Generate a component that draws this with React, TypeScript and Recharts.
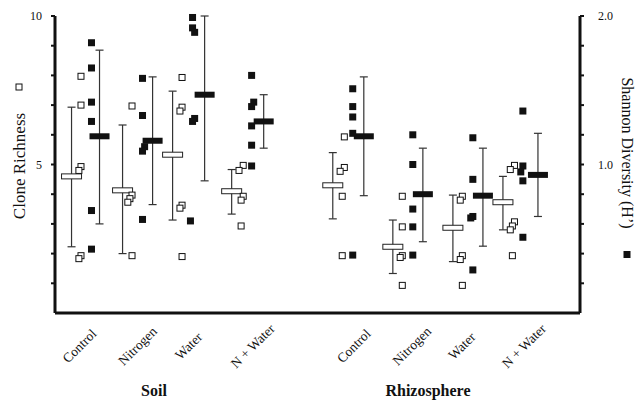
import React from 'react';
import { ComposedChart, Scatter, XAxis, YAxis, ErrorBar } from 'recharts';

const categories = ['Control', 'Nitrogen', 'Water', 'N + Water', 'Control', 'Nitrogen', 'Water', 'N + Water'];

// x positions on a 0-10 axis
const richnessBarX = [0.315, 1.287, 2.24, 3.365, 5.291, 6.435, 7.579, 8.532];
const shannonBarX = [0.848, 1.859, 2.85, 3.975, 5.882, 7.007, 8.151, 9.199];
const labelX = [0.467, 1.573, 2.545, 3.765, 5.691, 6.797, 7.75, 8.932];

// clone richness replicates (left axis): [value, sideways nudge]
const richnessPts: number[][][] = [
  [[7.97, 0], [7.0, 0], [4.93, 0], [4.8, -1], [1.93, 0], [1.83, -1]],
  [[6.97, 0], [3.97, 0], [3.85, -1], [3.73, -2], [1.93, 0]],
  [[7.93, 0], [6.93, 0], [6.8, -1], [3.63, 0], [3.53, -1], [1.9, 0]],
  [[4.97, 1], [4.8, -1], [3.93, 1], [3.8, 0], [2.93, 0]],
  [[5.93, 1], [4.9, 1], [4.77, -1], [3.93, 0], [1.93, 0]],
  [[3.93, 0], [2.9, 0], [1.93, 0], [1.87, -1], [0.93, 0]],
  [[3.93, 0], [3.8, -1], [1.93, 0], [1.8, -1], [0.93, 0]],
  [[4.97, 1], [4.83, -1], [3.07, 1], [2.93, 0], [2.8, -1], [1.93, 0]],
];
const richnessMean = [4.6, 4.13, 5.33, 4.1, 4.3, 2.23, 2.87, 3.73];
const richnessLow = [2.23, 2.0, 3.13, 3.33, 3.17, 1.33, 1.73, 2.8];
const richnessHigh = [6.93, 6.33, 7.47, 4.83, 5.4, 3.13, 3.97, 4.6];

// shannon diversity replicates (right axis)
const shannonPts: number[][][] = [
  [[1.82, 0], [1.65, 0], [1.42, 0], [1.29, 0], [0.69, 0], [0.43, 0]],
  [[1.58, 0], [1.33, 0], [1.12, 1], [1.09, 0], [0.63, 0]],
  [[1.99, 0], [1.92, 0], [1.89, 1], [1.31, 1], [1.29, 0], [0.62, -1]],
  [[1.6, 0], [1.42, 1], [1.39, 0], [1.26, 0], [1.13, 0], [0.99, 0]],
  [[1.51, 0], [1.39, 0], [1.32, 0], [1.21, 0], [0.39, 0]],
  [[1.2, 0], [1.0, 0], [0.7, 0], [0.58, 0], [0.39, 0]],
  [[1.18, 0], [0.9, 0], [0.65, 0], [0.64, -1], [0.29, 0]],
  [[1.36, 0], [0.99, 0], [0.95, -1], [0.89, 0], [0.51, 0]],
];
const shannonMean = [1.19, 1.16, 1.47, 1.29, 1.19, 0.8, 0.79, 0.93];
const shannonLow = [0.6, 0.73, 0.89, 1.11, 0.79, 0.48, 0.45, 0.65];
const shannonHigh = [1.77, 1.59, 2.0, 1.47, 1.59, 1.11, 1.11, 1.21];

const leftTicks = [1, 2, 3, 4, 5, 6, 7, 8, 9, 10];
const rightTicks = [0.2, 0.4, 0.6, 0.8, 1.0, 1.2, 1.4, 1.6, 1.8, 2.0];

const FONT = "'Liberation Serif', 'Times New Roman', serif";

const openPoints = richnessPts.flatMap((pts, i) =>
  pts.map(([y, n]) => ({ x: richnessBarX[i] + 0.18 + n * 0.04, y }))
);
const filledPoints = shannonPts.flatMap((pts, i) =>
  pts.map(([y, n]) => ({ x: richnessBarX[i] + 0.38 + n * 0.04, y }))
);
const openMeans = richnessMean.map((m, i) => ({
  x: richnessBarX[i],
  y: m,
  err: [m - richnessLow[i], richnessHigh[i] - m],
}));
const filledMeans = shannonMean.map((m, i) => ({
  x: shannonBarX[i],
  y: m,
  err: [m - shannonLow[i], shannonHigh[i] - m],
}));

const OpenSquare = ({ cx, cy }: any) => (
  <rect x={cx - 3} y={cy - 3} width={6} height={6} fill="#fff" stroke="#111" strokeWidth={1} />
);
const FilledSquare = ({ cx, cy }: any) => <rect x={cx - 3.5} y={cy - 3.5} width={7} height={7} fill="#111" />;
const OpenMean = ({ cx, cy }: any) => (
  <rect x={cx - 10} y={cy - 2.5} width={20} height={5} fill="#fff" stroke="#222" strokeWidth={1} />
);
const FilledMean = ({ cx, cy }: any) => <rect x={cx - 10} y={cy - 3} width={20} height={6} fill="#111" />;

const CategoryTick = ({ x, y, payload }: any) => {
  const idx = labelX.indexOf(payload.value);
  return (
    <text
      transform={`translate(${x},${y + 33}) rotate(-45)`}
      textAnchor="middle"
      dominantBaseline="central"
      fontFamily={FONT}
      fontSize={13.5}
      fill="#111"
    >
      {categories[idx]}
    </text>
  );
};

const LeftTick = ({ x, y, payload }: any) =>
  payload.value === 5 || payload.value === 10 ? (
    <text x={x} y={y} dy={4} textAnchor="end" fontFamily={FONT} fontSize={12} fill="#111">
      {payload.value}
    </text>
  ) : null;

const RightTick = ({ x, y, payload }: any) =>
  payload.value === 1 || payload.value === 2 ? (
    <text x={x} y={y} dy={4} textAnchor="start" fontFamily={FONT} fontSize={12} fill="#111">
      {payload.value.toFixed(1)}
    </text>
  ) : null;

export default function App() {
  return (
    <div style={{ position: 'fixed', left: 0, top: 0, width: 635, height: 400, background: '#fff' }}>
      <ComposedChart width={635} height={400} margin={{ top: 16, right: 0, bottom: 0, left: 0 }}>
        <XAxis
          type="number"
          dataKey="x"
          domain={[0, 10]}
          ticks={labelX}
          interval={0}
          height={87}
          axisLine={{ stroke: '#111', strokeWidth: 3 }}
          tickLine={false}
          tickSize={0}
          tickMargin={0}
          tick={<CategoryTick />}
        />
        <YAxis
          yAxisId="left"
          dataKey="y"
          type="number"
          domain={[0, 10]}
          ticks={leftTicks}
          interval={0}
          width={55}
          axisLine={{ stroke: '#111', strokeWidth: 3 }}
          tickLine={{ stroke: '#111', strokeWidth: 2 }}
          tickSize={4}
          tickMargin={9}
          tick={<LeftTick />}
        />
        <YAxis
          yAxisId="right"
          orientation="right"
          dataKey="y"
          type="number"
          domain={[0, 2]}
          ticks={rightTicks}
          interval={0}
          width={55}
          axisLine={{ stroke: '#111', strokeWidth: 3 }}
          tickLine={{ stroke: '#111', strokeWidth: 2 }}
          tickSize={4}
          tickMargin={14}
          tick={<RightTick />}
        />
        <Scatter yAxisId="left" data={openMeans} shape={OpenMean} isAnimationActive={false}>
          <ErrorBar dataKey="err" direction="y" width={4} stroke="#333" strokeWidth={1.2} />
        </Scatter>
        <Scatter yAxisId="right" data={filledMeans} shape={FilledMean} isAnimationActive={false}>
          <ErrorBar dataKey="err" direction="y" width={4} stroke="#333" strokeWidth={1.2} />
        </Scatter>
        <Scatter yAxisId="left" data={openPoints} shape={OpenSquare} isAnimationActive={false} />
        <Scatter yAxisId="right" data={filledPoints} shape={FilledSquare} isAnimationActive={false} />
      </ComposedChart>
      <svg
        width={635}
        height={400}
        style={{ position: 'absolute', left: 0, top: 0, pointerEvents: 'none' }}
        fontFamily={FONT}
      >
        <rect x={16} y={84} width={6} height={6} fill="#fff" stroke="#111" strokeWidth={1} />
        <text transform="translate(25,166) rotate(-90)" textAnchor="middle" fontSize={17} fill="#111">
          Clone Richness
        </text>
        <text transform="translate(622,153) rotate(90)" textAnchor="middle" fontSize={16} fill="#111">
          Shannon Diversity (H’)
        </text>
        <rect x={623.5} y={251} width={7} height={7} fill="#111" />
        <text x={154} y={396} textAnchor="middle" fontSize={16} fontWeight="bold" fill="#111">
          Soil
        </text>
        <text x={428} y={396} textAnchor="middle" fontSize={16} fontWeight="bold" fill="#111">
          Rhizosphere
        </text>
      </svg>
    </div>
  );
}
